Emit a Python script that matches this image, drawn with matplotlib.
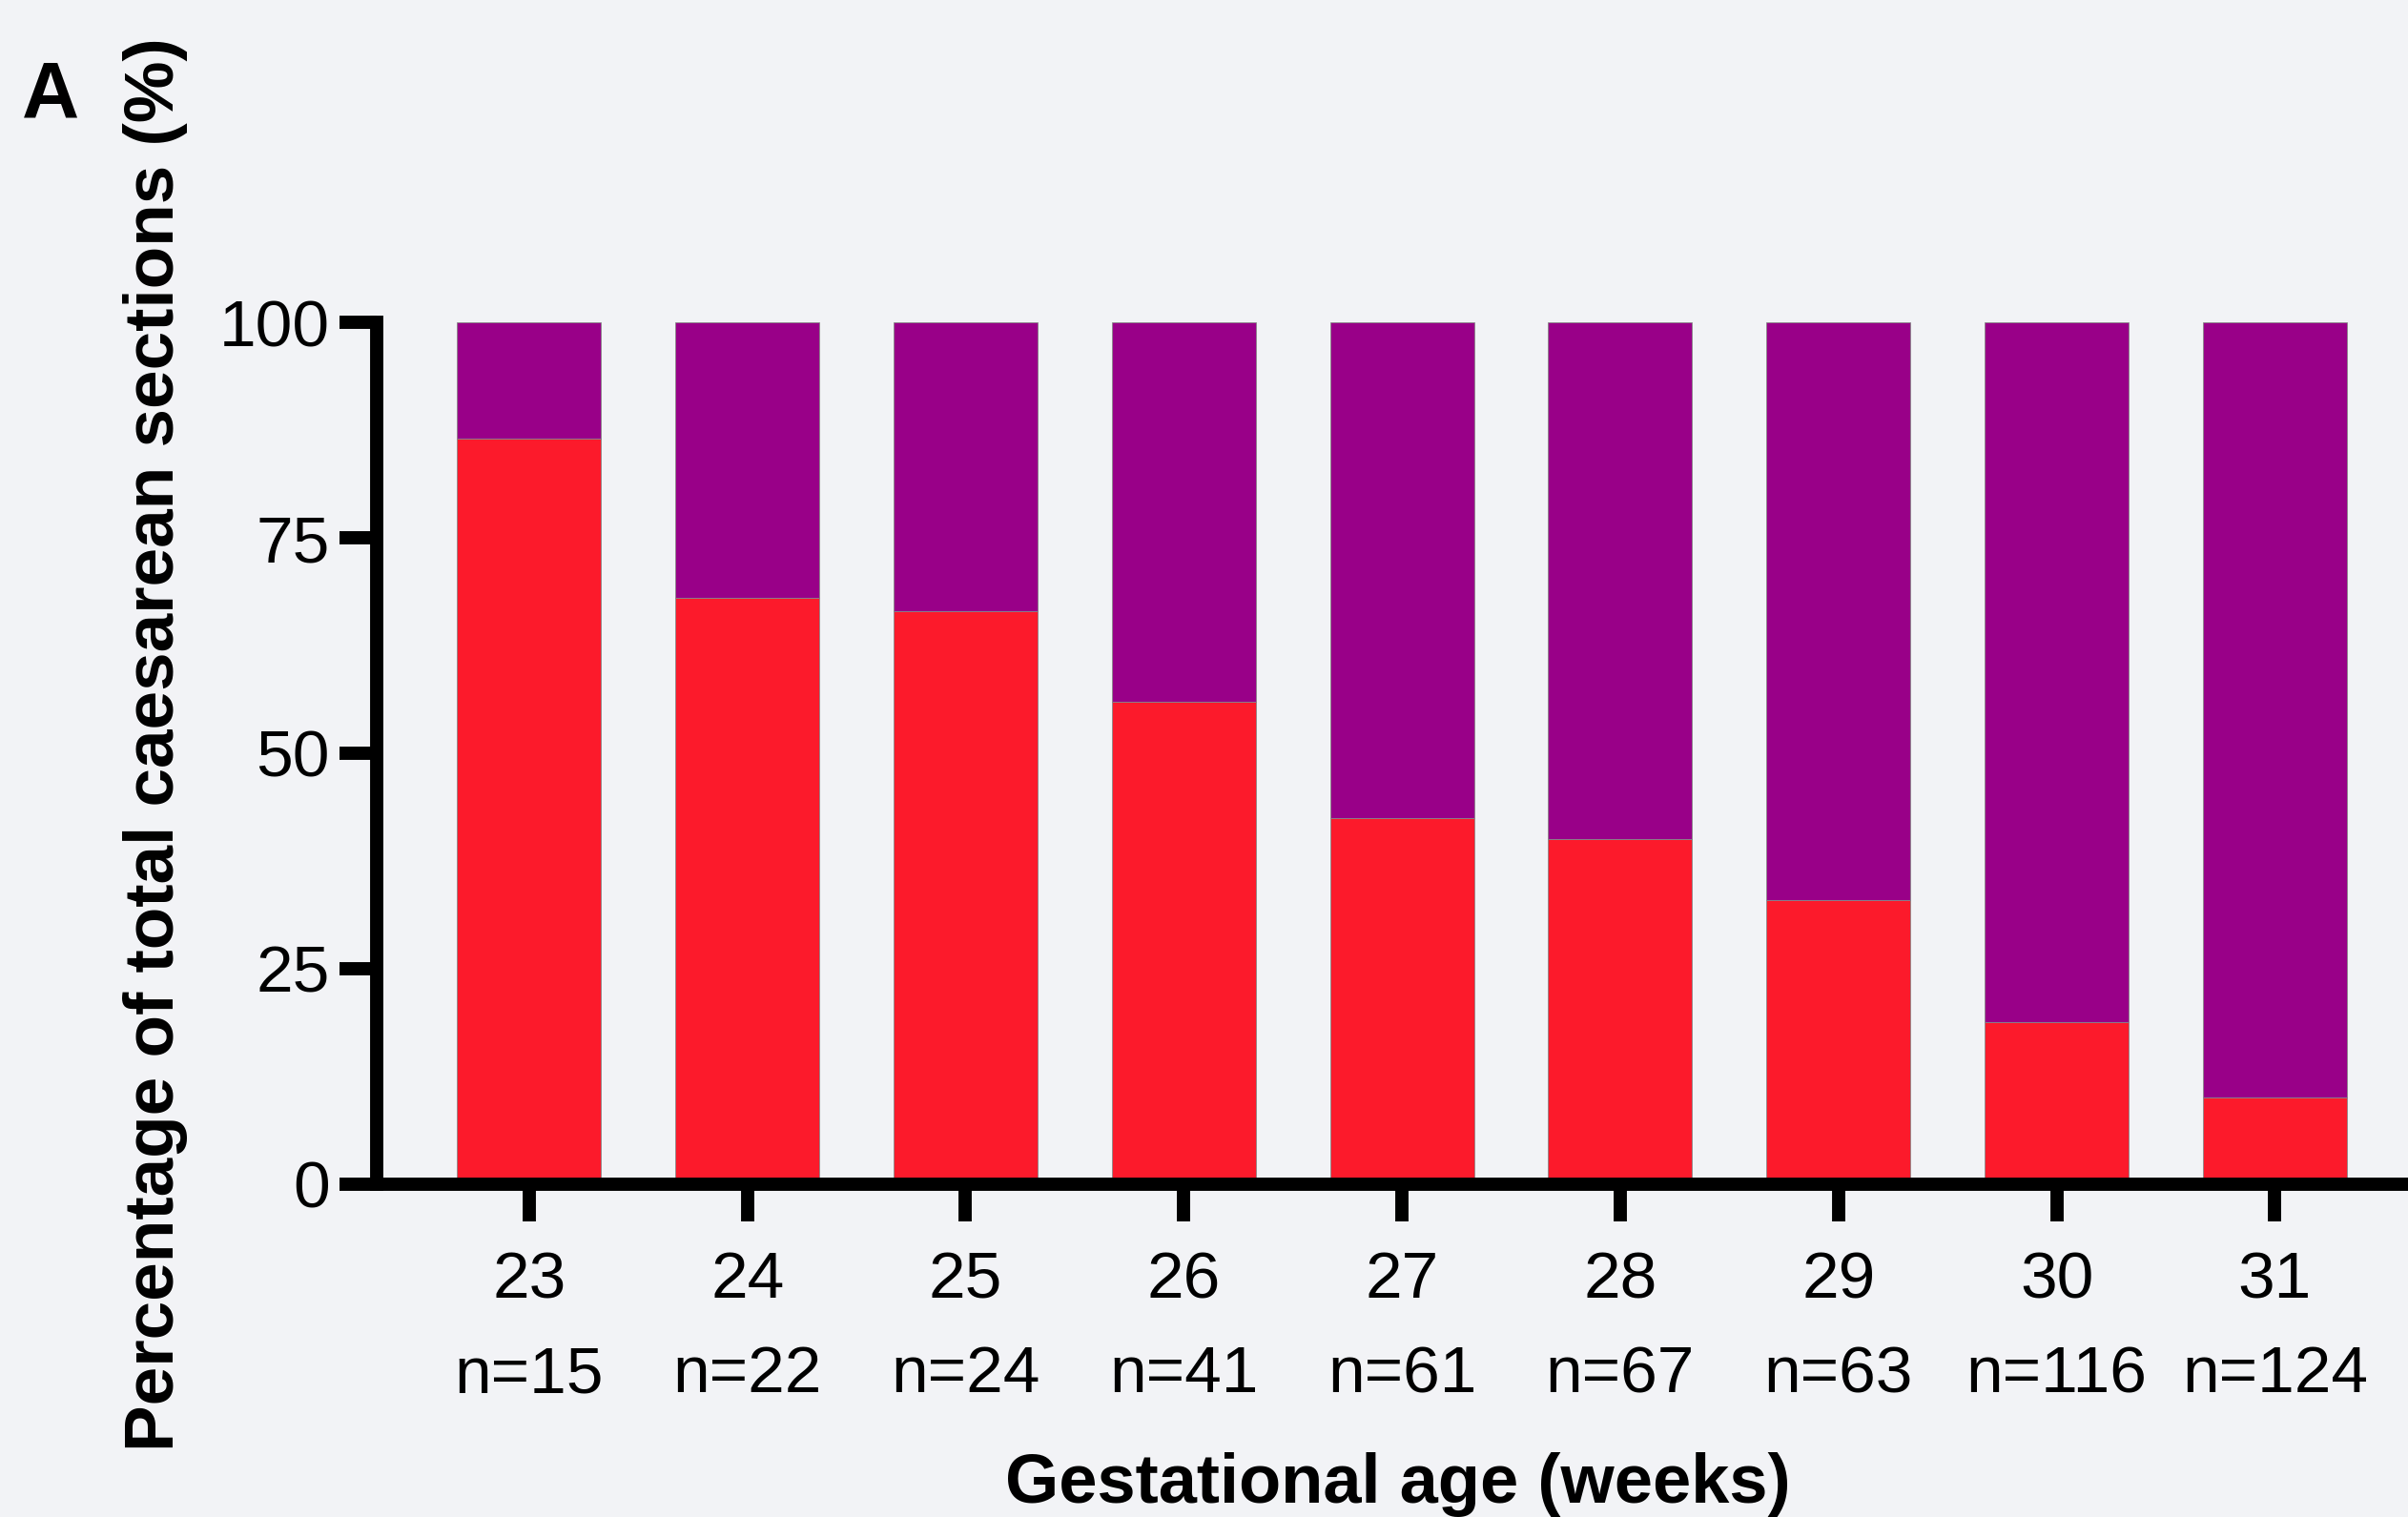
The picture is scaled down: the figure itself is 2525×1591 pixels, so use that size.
import numpy as np
import matplotlib as mpl
mpl.use('Agg')
import matplotlib.pyplot as plt

# --- data
weeks = [23, 24, 25, 26, 27, 28, 29, 30, 31]
n_total = [15, 22, 24, 41, 61, 67, 63, 116, 124]
red_pct = [86.5, 68.0, 66.5, 56.0, 42.5, 40.0, 33.0, 18.8, 10.0]
purple_pct = [100 - r for r in red_pct]

red = '#fc1a2b'
purple = '#990088'
bg = '#f2f3f6'

plt.rcParams['font.family'] = ['Liberation Sans', 'DejaVu Sans']

fig = plt.figure(figsize=(25.25, 15.91), dpi=100, facecolor=bg)
ax = fig.add_axes([0.1563, 0.2196, 0.8437, 0.5678])
ax.set_facecolor(bg)

x = np.array(weeks)
ax.bar(x, red_pct, width=0.66, color=red, edgecolor='#888888', lw=0.6)
ax.bar(x, purple_pct, bottom=red_pct, width=0.66, color=purple, edgecolor='#888888', lw=0.6)

ax.set_xlim(22.3, 31.61)
ax.set_ylim(0, 100)

for s in ['top', 'right']:
    ax.spines[s].set_visible(False)
for s in ['left', 'bottom']:
    ax.spines[s].set_linewidth(10)
    ax.spines[s].set_capstyle('projecting')

ax.set_yticks([0, 25, 50, 75, 100])
ax.set_xticks(x)
ax.set_xticklabels([f'{w}\nn={n}' for w, n in zip(weeks, n_total)], linespacing=1.7)
ax.tick_params(axis='both', width=10, length=28, labelsize=50, pad=7, direction='out')
ax.tick_params(axis='x', pad=22)

ax.set_ylabel('Percentage of total caesarean sections (%)', fontsize=52.5,
              fontweight='bold')
ax.yaxis.set_label_coords(-0.093, 0.51)
ax.set_xlabel('Gestational age (weeks)', fontsize=52, fontweight='bold')
ax.xaxis.set_label_coords(0.503, -0.312)

fig.text(0.0212, 0.936, 'A', fontsize=60, fontweight='bold', ha='center', va='center')

fig.savefig('out.png', dpi=100, facecolor=bg)
